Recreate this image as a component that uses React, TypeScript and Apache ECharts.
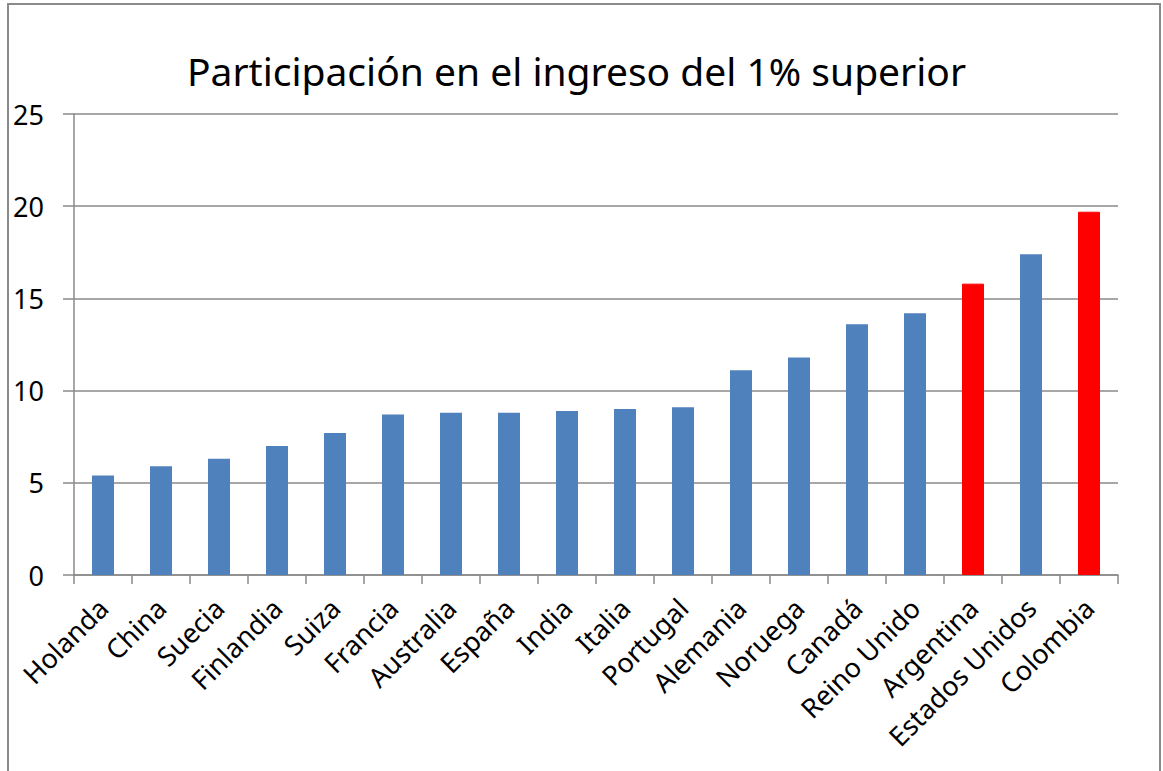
import React, { useEffect, useRef } from "react";
import * as echarts from "echarts";

const categories = [
  "Holanda", "China", "Suecia", "Finlandia", "Suiza", "Francia", "Australia", "España", "India",
  "Italia", "Portugal", "Alemania", "Noruega", "Canadá", "Reino Unido", "Argentina", "Estados Unidos", "Colombia",
];
const values = [5.4, 5.9, 6.3, 7.0, 7.7, 8.7, 8.8, 8.8, 8.9, 9.0, 9.1, 11.1, 11.8, 13.6, 14.2, 15.8, 17.4, 19.7];
const highlighted = ["Argentina", "Colombia"];
const titleText = "Participación en el ingreso del 1% superior";
const yTicks = { min: 0, max: 25, interval: 5 };

const BLUE = "#4f81bd";
const RED = "#ff0000";
const GRAY = "#8a8a8a";
const FONT = "'Noto Sans', sans-serif";

export default function App() {
  const ref = useRef<HTMLDivElement>(null);
  useEffect(() => {
    document.body.style.margin = "0";
    const chart = echarts.init(ref.current!, null, { renderer: "svg" });
    chart.setOption({
      animation: false,
      backgroundColor: "#ffffff",
      title: {
        text: titleText,
        left: 182,
        top: 46,
        textStyle: { fontFamily: FONT, fontSize: 39, fontWeight: "normal", color: "#000" },
      },
      graphic: [
        {
          type: "rect",
          shape: { x: 8, y: 4, width: 1152, height: 820 },
          style: { fill: "none", stroke: GRAY, lineWidth: 2 },
          silent: true,
        },
      ],
      grid: { left: 74, right: 45, top: 114, bottom: 196 },
      xAxis: {
        type: "category",
        data: categories,
        axisLine: { lineStyle: { color: GRAY, width: 1.5 } },
        axisTick: { show: true, length: 9, alignWithLabel: false, lineStyle: { color: GRAY, width: 1.5 } },
        axisLabel: {
          rotate: 45,
          interval: 0,
          margin: 28,
          fontFamily: FONT,
          fontSize: 27,
          color: "#000",
        },
      },
      yAxis: {
        type: "value",
        min: yTicks.min,
        max: yTicks.max,
        interval: yTicks.interval,
        axisLine: { show: true, lineStyle: { color: GRAY, width: 1.5 } },
        axisTick: { show: true, length: 11, lineStyle: { color: GRAY, width: 1.5 } },
        axisLabel: { margin: 30, fontFamily: FONT, fontSize: 27, color: "#000" },
        splitLine: { lineStyle: { color: GRAY, width: 1.5 } },
      },
      series: [
        {
          type: "bar",
          barWidth: 22,
          data: values.map((v, i) => {
            const isRed = highlighted.includes(categories[i]);
            return {
              value: v,
              itemStyle: isRed
                ? { color: RED, borderColor: RED, borderWidth: 1 }
                : { color: BLUE },
            };
          }),
        },
      ],
    });
    return () => chart.dispose();
  }, []);
  return <div ref={ref} style={{ width: 1163, height: 771 }} />;
}
